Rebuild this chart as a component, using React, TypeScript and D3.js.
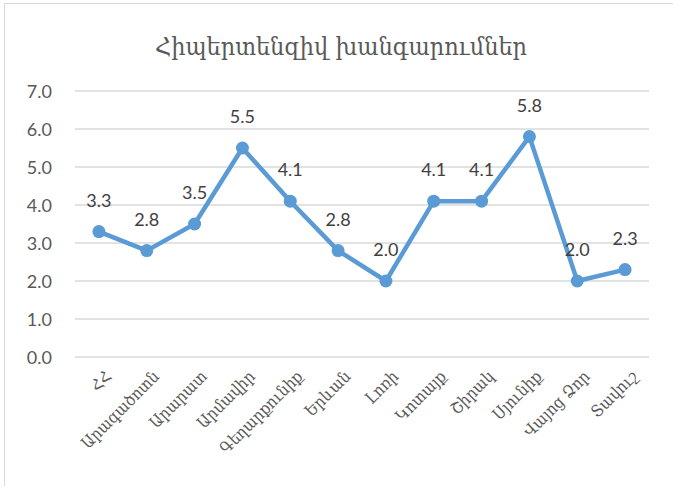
import React, { useEffect, useRef } from 'react';
import * as d3 from 'd3';

const regions = ['ՀՀ', 'Արագածոտն', 'Արարատ', 'Արմավիր', 'Գեղարքունիք', 'Երևան', 'Լոռի', 'Կոտայք', 'Շիրակ', 'Սյունիք', 'Վայոց Ձոր', 'Տավուշ'];
const rates = [3.3, 2.8, 3.5, 5.5, 4.1, 2.8, 2.0, 4.1, 4.1, 5.8, 2.0, 2.3];
const yTicks = [0, 1, 2, 3, 4, 5, 6, 7];
const title = 'Հիպերտենզիվ խանգարումներ';

const W = 673;
const H = 486;

export default function App() {
  const svgRef = useRef<SVGSVGElement>(null);

  useEffect(() => {
    const svg = d3.select(svgRef.current);
    svg.selectAll('*').remove();

    const margin = { top: 91, right: 24, bottom: 129, left: 75 };
    const w = W - margin.left - margin.right;
    const h = H - margin.top - margin.bottom;

    // chart frame (only top/left edges visible in crop)
    svg.append('rect')
      .attr('x', 4.5).attr('y', 3.5)
      .attr('width', W + 10).attr('height', H + 10)
      .attr('fill', '#fff')
      .attr('stroke', '#d9d9d9');

    svg.append('text')
      .attr('x', 341).attr('y', 55)
      .attr('text-anchor', 'middle')
      .attr('fill', '#595959')
      .attr('font-family', '"DejaVu Serif Condensed", "DejaVu Serif", serif')
      .attr('font-size', '24px')
      .attr('textLength', 372)
      .attr('lengthAdjust', 'spacingAndGlyphs')
      .text(title);

    const g = svg.append('g').attr('transform', `translate(${margin.left},${margin.top})`);

    const x = d3.scaleBand().domain(regions).range([0, w]);
    const y = d3.scaleLinear().domain([0, 7]).range([h, 0]);

    yTicks.forEach(t => {
      g.append('line')
        .attr('x1', 0).attr('x2', w)
        .attr('y1', y(t)).attr('y2', y(t))
        .attr('stroke', '#d9d9d9')
        .attr('stroke-width', 1.3);
      g.append('text')
        .attr('x', -23).attr('y', y(t))
        .attr('text-anchor', 'end')
        .attr('dominant-baseline', 'central')
        .attr('fill', '#595959')
        .attr('font-family', 'Lato, "Open Sans", sans-serif')
        .attr('font-size', '18px')
        .text(t.toFixed(1));
    });

    const cx = (d: string) => (x(d) as number) + x.bandwidth() / 2;

    regions.forEach(r => {
      g.append('text')
        .attr('transform', `translate(${cx(r) + 5},${h + 12}) rotate(-45)`)
        .attr('text-anchor', 'end')
        .attr('dominant-baseline', 'hanging')
        .attr('fill', '#595959')
        .attr('font-family', '"DejaVu Serif Condensed", "DejaVu Serif", serif')
        .attr('font-size', '16.5px')
        .text(r);
    });

    const line = d3.line<number>()
      .x((d, i) => cx(regions[i]))
      .y(d => y(d));

    g.append('path')
      .datum(rates)
      .attr('d', line)
      .attr('fill', 'none')
      .attr('stroke', '#5b9bd5')
      .attr('stroke-width', 4.5)
      .attr('stroke-linejoin', 'round');

    rates.forEach((v, i) => {
      g.append('circle')
        .attr('cx', cx(regions[i]))
        .attr('cy', y(v))
        .attr('r', 6.5)
        .attr('fill', '#5b9bd5');
      g.append('text')
        .attr('x', cx(regions[i]))
        .attr('y', y(v) - 25)
        .attr('text-anchor', 'middle')
        .attr('fill', '#404040')
        .attr('font-family', 'Lato, "Open Sans", sans-serif')
        .attr('font-size', '18px')
        .text(v.toFixed(1));
    });
  }, []);

  return (
    <svg
      ref={svgRef}
      width={W}
      height={H}
      style={{ position: 'absolute', left: 0, top: 0, background: '#fff' }}
    />
  );
}
